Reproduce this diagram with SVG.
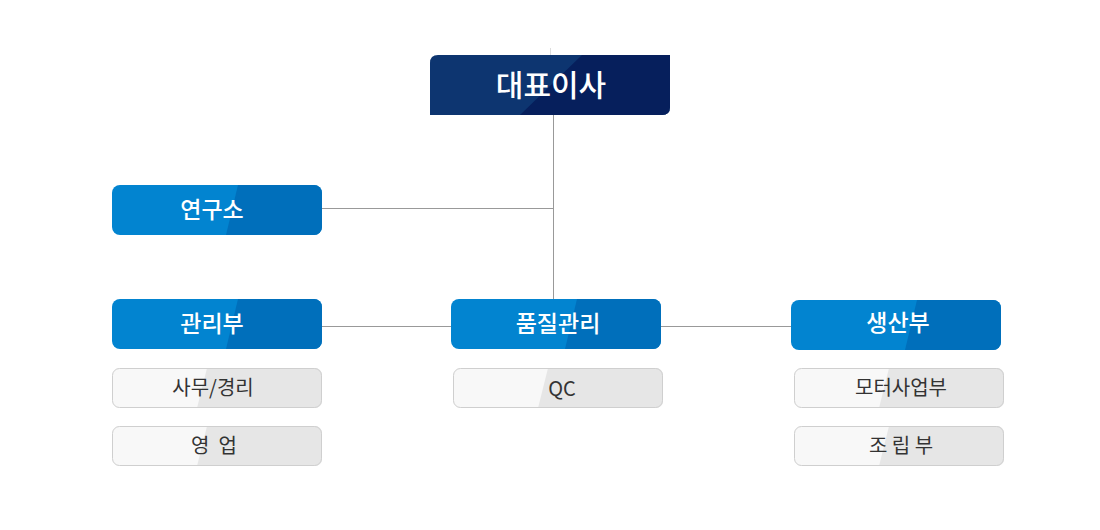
<svg xmlns="http://www.w3.org/2000/svg" width="1100" height="530" viewBox="0 0 1100 530">
<defs>
<style>
.lbl{font-family:"Noto Sans CJK KR","Noto Sans",sans-serif;text-anchor:middle}
.wt{fill:#fff;font-size:23px;font-weight:500}
.gt{fill:#333;font-size:20px}
.ln{stroke:#999;stroke-width:1;fill:none}
.sub{stroke:#cfcfcf;stroke-width:1}
</style>
<clipPath id="c1"><rect x="0" y="0" width="210" height="50" rx="8"/></clipPath>
<clipPath id="c2"><rect x="0" y="0" width="210" height="40" rx="7"/></clipPath>
<g id="bluebox">
<g clip-path="url(#c1)">
<rect x="0" y="0" width="210" height="50" fill="#0284d0"/>
<polygon points="126,0 210,0 210,50 114,50" fill="#006fbb"/>
</g>
</g>
<g id="greybox">
<g clip-path="url(#c2)">
<rect x="0" y="0" width="210" height="40" fill="#f8f8f8"/>
<polygon points="95,0 210,0 210,40 85,40" fill="#e6e6e6"/>
</g>
<rect x="0.5" y="0.5" width="209" height="39" rx="7" fill="none" class="sub"/>
</g>
</defs>
<rect width="1100" height="530" fill="#fff"/>
<g id="connectors">
<line x1="550.5" y1="48" x2="550.5" y2="55" stroke="#ddd" stroke-width="1"/>
<line class="ln" x1="553.5" y1="115" x2="553.5" y2="299"/>
<line class="ln" x1="322" y1="208.5" x2="553.5" y2="208.5"/>
<line class="ln" x1="322" y1="326.5" x2="451" y2="326.5"/>
<line class="ln" x1="661" y1="326.5" x2="791" y2="326.5"/>
</g>
<g id="ceo">
<path d="M438,55 H670 V107 Q670,115 662,115 H430 V63 Q430,55 438,55 Z" fill="#0d3570"/>
<path d="M582,55 H670 V107 Q670,115 662,115 H520 Z" fill="#061f5c"/>
<text class="lbl" x="551" y="96" fill="#fff" font-size="30" font-weight="500">대표이사</text>
</g>
<g id="lab">
<use href="#bluebox" x="112" y="185"/>
<text class="lbl wt" x="212" y="218">연구소</text>
</g>
<g id="admin">
<use href="#bluebox" x="112" y="299"/>
<text class="lbl wt" x="212" y="332">관리부</text>
</g>
<g id="qm">
<use href="#bluebox" x="451" y="299"/>
<text class="lbl wt" x="558" y="332">품질관리</text>
</g>
<g id="prod">
<use href="#bluebox" x="791" y="300"/>
<text class="lbl wt" x="898" y="331">생산부</text>
</g>
<g id="office">
<use href="#greybox" x="112" y="368"/>
<text class="lbl gt" x="213" y="395">사무/경리</text>
</g>
<g id="sales">
<use href="#greybox" x="112" y="426"/>
<text class="lbl gt" x="214" y="453" style="white-space:pre">영  업</text>
</g>
<g id="qc">
<use href="#greybox" x="453" y="368"/>
<text class="lbl gt" x="562" y="396">QC</text>
</g>
<g id="motor">
<use href="#greybox" x="794" y="368"/>
<text class="lbl gt" x="901" y="395">모터사업부</text>
</g>
<g id="assembly">
<use href="#greybox" x="794" y="426"/>
<text class="lbl gt" x="901" y="453">조 립 부</text>
</g>
</svg>
